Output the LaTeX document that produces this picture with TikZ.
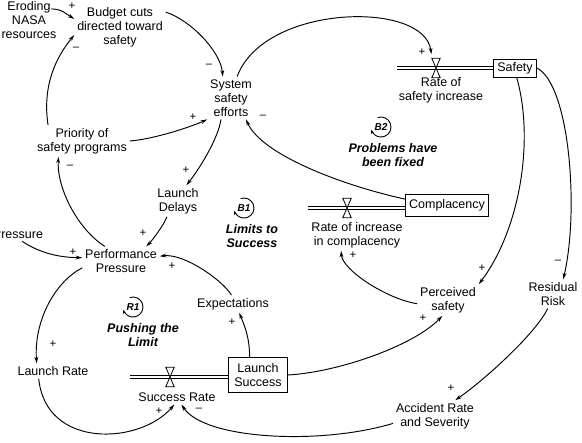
\documentclass[tikz,border=0pt]{standalone}
\usepackage{fontspec}
\setmainfont{Liberation Sans}
\usetikzlibrary{arrows.meta, positioning}
\tikzset{
    var/.style={
        align=center, inner sep=1pt, outer sep=2pt,
        font=\fontsize{12.5}{14}\selectfont
    },
    stock/.style={
        rectangle, draw=black, line width=0.9pt, align=center,
        inner sep=0pt, font=\fontsize{12.5}{14}\selectfont
    },
    valve/.style={rectangle, minimum width=8pt, minimum height=19pt, inner sep=0pt},
    pipe/.style={draw=black, double, double distance=2.6pt, line width=0.8pt},
    wire/.style={draw=black, line width=0.95pt, -{Stealth[length=6.5pt, width=3.8pt]}},
    sign/.style={inner sep=0pt, font=\fontsize{11.5}{11.5}\selectfont},
    loopname/.style={
        align=center, inner sep=1pt,
        font=\fontsize{12.5}{13.5}\selectfont\bfseries\itshape
    },
    looptag/.style={inner sep=0pt, font=\fontsize{10}{10}\selectfont\bfseries\itshape},
    looparrow/.style={draw=black, line width=0.9pt, -{Stealth[length=4.5pt, width=3.2pt]}}
}
\newcommand{\drawvalve}[1]{%
    \draw[line width=0.8pt, fill=white] (#1.north west) -- (#1.north east) -- (#1.center) -- cycle
        (#1.south west) -- (#1.south east) -- (#1.center) -- cycle;}

\begin{document}
\begin{tikzpicture}[x=1pt, y=1pt]

\useasboundingbox (0,0) rectangle (582,-443);

% Variables
\node[var] (eroding) at (29,-20) {Eroding\\NASA\\resources};
\node[var] (budget) at (120,-27) {Budget cuts\\directed toward\\safety};
\node[var] (sys) at (231,-98) {System\\safety\\efforts};
\node[var] (prio) at (82,-141) {Priority of\\safety programs};
\node[var] (delays) at (178,-201) {Launch\\Delays};
\node[var] (perf) at (121,-261) {Performance\\Pressure};
\node[var, anchor=east] (pressL) at (46,-234) {Pressure};
\node[var] (lrate) at (53,-371) {Launch Rate};
\node[var] (expect) at (233,-304) {Expectations};
\node[var] (perc) at (448,-300) {Perceived\\safety};
\node[var] (resid) at (553,-294) {Residual\\Risk};
\node[var] (acc) at (435,-416) {Accident Rate\\and Severity};

% Stocks
\node[stock, minimum width=43pt, minimum height=18pt] (safety) at (515,-68) {Safety};
\node[stock, minimum width=83pt, minimum height=22pt] (comp) at (447,-205) {Complacency};
\node[stock, minimum width=59pt, minimum height=35pt] (lsucc) at (258,-375) {Launch\\Success};

% Flows (pipes and valves)
\coordinate (src1) at (397,-68);
\coordinate (src2) at (308,-208);
\coordinate (src3) at (130,-377);
\draw[pipe] (src1) -- (src1 -| safety.west);
\draw[pipe] (src2) -- (src2 -| comp.west);
\draw[pipe] (src3) -- (src3 -| lsucc.west);

\node[valve] (v1) at (436,-68) {};
\node[valve] (v2) at (347,-208) {};
\node[valve] (v3) at (170,-377) {};
\drawvalve{v1}
\drawvalve{v2}
\drawvalve{v3}

\node[var, below=-3pt of v1, xshift=5pt] (rsi) {Rate of\\safety increase};
\node[var, below=1.5pt of v2, xshift=10pt] (ric) {Rate of increase\\in complacency};
\node[var, below=3pt of v3, xshift=7pt] (srate) {Success Rate};

% Loop labels
\node[looptag] (b1) at (244,-208) {B1};
\draw[looparrow] ([shift={(110:10pt)}]b1.center) arc[start angle=110, end angle=-165, radius=10pt];
\node[loopname] (b1name) at (252,-236) {Limits to\\Success};
\node[looptag] (r1) at (133,-307) {R1};
\draw[looparrow] ([shift={(110:10pt)}]r1.center) arc[start angle=110, end angle=-165, radius=10pt];
\node[loopname] (r1name) at (143,-335) {Pushing the\\Limit};
\node[looptag] (b2) at (381,-127) {B2};
\draw[looparrow] ([shift={(110:10pt)}]b2.center) arc[start angle=110, end angle=-165, radius=10pt];
\node[loopname] (b2name) at (393,-155) {Problems have\\been fixed};

% Links - budget and safety efforts
\draw[wire] ([xshift=-8pt]eroding.20) .. controls +(10,0) and +(-8,5) .. (budget.170);
\draw[wire] (prio.155) .. controls +(-6,40) and +(-18,-22) .. (budget.190);
\draw[wire] (budget.18) .. controls +(25,-8) and +(-2,25) .. (sys.111);
\draw[wire] (prio.east) .. controls +(25,2) and +(-15,-7) .. (sys.south west);
\draw[wire] (comp.172) .. controls +(-60,13) and +(16,-36) .. (sys.-55);
\draw[wire, shorten >=4pt] (sys.74) .. controls +(27,73) and +(-7,58) .. (v1.north west);
\draw[wire] (sys.245) .. controls +(-3,-20) and +(12,15) .. (delays.62);

% Links - performance pressure
\draw[wire] (delays.235) .. controls +(-3,-8) and +(6,6) .. (perf.30);
\draw[wire] (expect.100) .. controls +(-8,14) and +(25,3) .. (perf.7);
\draw[wire] (pressL.-60) .. controls +(18,-12) and +(-22,0) .. (perf.175);
\draw[wire] (perf.138) .. controls +(-28,18) and +(-2,-30) .. (prio.214);
\draw[wire] (perf.190) .. controls +(-27,-14) and +(-3,43) .. (lrate.155);
\draw[wire] (lrate.208) .. controls +(7,-71) and +(-34,-40) .. (srate.250);
\draw[wire] (lsucc.115) .. controls +(0,20) and +(5,-12) .. (expect.-55);

% Links - perceived safety and risk
\draw[wire] (lsucc.east) .. controls +(52,3) and +(-27,-29) .. (perc.250);
\draw[wire] (perc.187) .. controls +(-31,5) and +(1,-19) .. (ric.225);
\draw[wire] (safety.-80) .. controls +(18,-63) and +(41,54) .. (perc.north east);
\draw[wire] (safety.east) .. controls +(33,-17) and +(16,68) .. (resid.55);
\draw[wire] (resid.-110) .. controls +(-12,-25) and +(29,20) .. (acc.38);
\draw[wire] (acc.190) .. controls +(-73,-22) and +(23,-35) .. (srate.-59);

% Polarities
\node[sign] (sg1) at (72,-6) {+};
\node[sign] (sg2) at (76,-49) {\textendash};
\node[sign] (sg3) at (209,-66) {\textendash};
\node[sign] (sg4) at (193,-117) {+};
\node[sign] (sg5) at (263,-117) {\textendash};
\node[sign] (sg6) at (186,-170) {+};
\node[sign] (sg7) at (143,-233) {+};
\node[sign] (sg8) at (172,-266) {+};
\node[sign] (sg9) at (73,-252) {+};
\node[sign] (sg10) at (70,-167) {\textendash};
\node[sign] (sg11) at (53,-344) {+};
\node[sign] (sg12) at (159,-411) {+};
\node[sign] (sg13) at (199,-410) {\textendash};
\node[sign] (sg14) at (232,-322) {+};
\node[sign] (sg15) at (423,-318) {+};
\node[sign] (sg16) at (353,-255) {+};
\node[sign] (sg17) at (482,-268) {+};
\node[sign] (sg18) at (558,-262) {\textendash};
\node[sign] (sg19) at (451,-388) {+};
\node[sign] (sg20) at (422,-52) {+};

\end{tikzpicture}
\end{document}
